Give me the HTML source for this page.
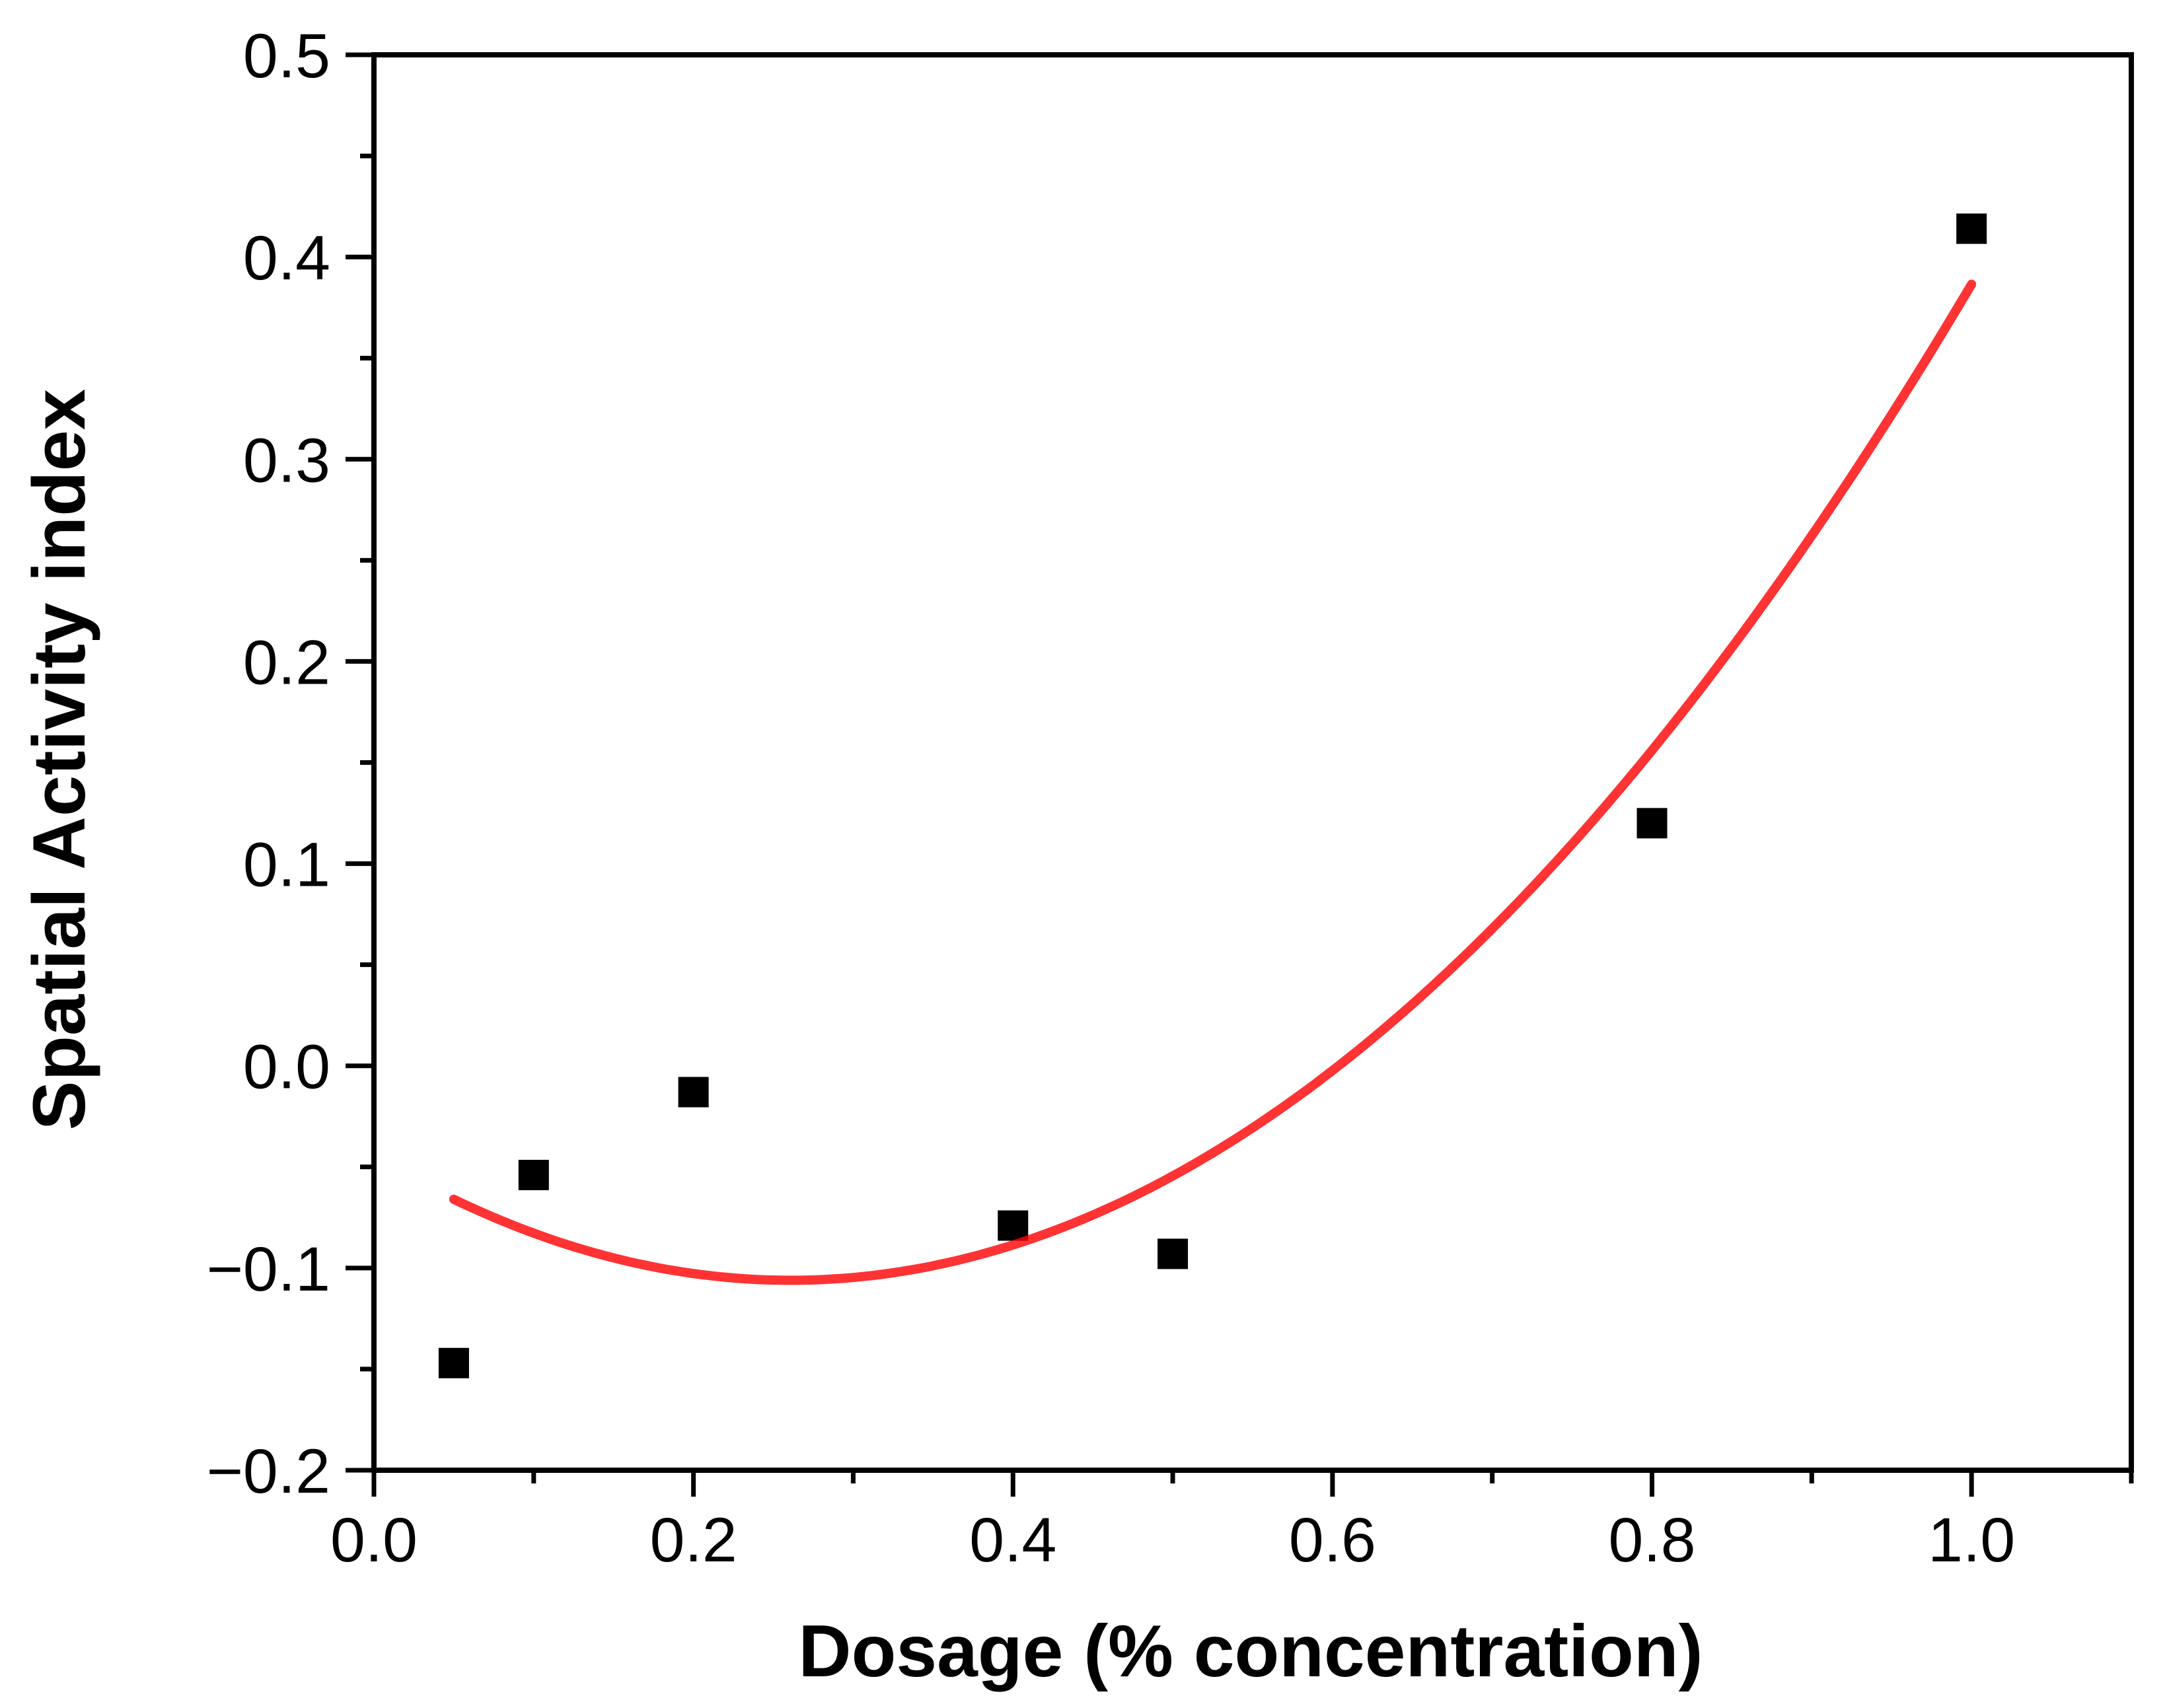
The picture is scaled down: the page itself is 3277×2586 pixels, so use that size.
<!DOCTYPE html>
<html><head><meta charset="utf-8"><style>
html,body{margin:0;padding:0;background:#fff;}
svg{display:block;}
text{font-family:"Liberation Sans",Arial,sans-serif;fill:#000;}
</style></head><body>
<svg id="chart" width="3277" height="2586" viewBox="0 0 3277 2586" xmlns="http://www.w3.org/2000/svg">
<g id="axes"></g>
<g id="marks"></g>
<g id="fitg"></g>
<text x="1893" y="2538" font-size="111" font-weight="bold" text-anchor="middle">Dosage (% concentration)</text>
<text transform="translate(128,1150) rotate(-90)" font-size="112" font-weight="bold" text-anchor="middle">Spatial Activity index</text>
</svg>
<script>
const xValues = [0.05, 0.1, 0.2, 0.4, 0.5, 0.8, 1.0];
const yValues = [-0.147, -0.054, -0.013, -0.079, -0.093, 0.12, 0.414];
const xTickLabels = ["0.0","0.2","0.4","0.6","0.8","1.0"];
const xTickValues = [0, 0.2, 0.4, 0.6, 0.8, 1.0];
const yTickLabels = ["\u22120.2","\u22120.1","0.0","0.1","0.2","0.3","0.4","0.5"];
const yTickValues = [-0.2,-0.1,0,0.1,0.2,0.3,0.4,0.5];

const NS="http://www.w3.org/2000/svg";
const L=566,R=3226,T=83,B=2226;
const X0=0,X1=1.1,Y0=-0.2,Y1=0.5;
function sx(v){return L+(v-X0)/(X1-X0)*(R-L);}
function sy(v){return B-(v-Y0)/(Y1-Y0)*(B-T);}
function mk(tag,attrs,parent){const e=document.createElementNS(NS,tag);for(const k in attrs)e.setAttribute(k,attrs[k]);parent.appendChild(e);return e;}
const axes=document.getElementById('axes');
const frame=mk('rect',{x:L,y:T,width:R-L,height:B-T,fill:'none',stroke:'#000','stroke-width':8},axes);


for(let i=0;i<=11;i++){
  const v=i*0.1;const major=(i%2===0);
  const t=mk('line',{x1:sx(v),x2:sx(v),y1:B,y2:B+(major?40:20),stroke:'#000','stroke-width':7},axes);
  
  
}
xTickValues.forEach((v,i)=>{
  const t=mk('text',{x:sx(v),y:2364,'font-size':95,'text-anchor':'middle'},axes);
  t.textContent=xTickLabels[i];
  
  
});
for(let i=0;i<=14;i++){
  const v=-0.2+i*0.05;const major=(i%2===0);
  const t=mk('line',{x1:L,x2:L-(major?43:21),y1:sy(v),y2:sy(v),stroke:'#000','stroke-width':7},axes);
  
  
}
yTickValues.forEach((v,i)=>{
  const t=mk('text',{x:500,y:sy(v)+34,'font-size':95,'text-anchor':'end'},axes);
  t.textContent=yTickLabels[i];
  
  
});
const marks=document.getElementById('marks');
xValues.forEach((x,i)=>{
  const r=mk('rect',{x:sx(x)-23,y:sy(yValues[i])-23,width:46,height:46,fill:'#000'},marks);
  
  
});
function fit(xs,ys){
  let S=[0,0,0,0,0],T2=[0,0,0];
  xs.forEach((x,i)=>{for(let k=0;k<5;k++)S[k]+=Math.pow(x,k);for(let k=0;k<3;k++)T2[k]+=ys[i]*Math.pow(x,k);});
  const M=[[S[0],S[1],S[2],T2[0]],[S[1],S[2],S[3],T2[1]],[S[2],S[3],S[4],T2[2]]];
  for(let i=0;i<3;i++){for(let j=i+1;j<3;j++){const f=M[j][i]/M[i][i];for(let k=i;k<4;k++)M[j][k]-=f*M[i][k];}}
  const c=[0,0,0];
  for(let i=2;i>=0;i--){let s=M[i][3];for(let k=i+1;k<3;k++)s-=M[i][k]*c[k];c[i]=s/M[i][i];}
  return c;
}
const c=fit(xValues,yValues);
const xmin=Math.min(...xValues),xmax=Math.max(...xValues);
let d='';
for(let i=0;i<=200;i++){const x=xmin+(xmax-xmin)*i/200;const y=c[0]+c[1]*x+c[2]*x*x;d+=(i?'L':'M')+sx(x).toFixed(1)+' '+sy(y).toFixed(1);}
const p=mk('path',{d:d,fill:'none',stroke:'rgba(255,0,0,0.8)','stroke-width':14,'stroke-linecap':'round'},document.getElementById('fitg'));


</script>
</body></html>
